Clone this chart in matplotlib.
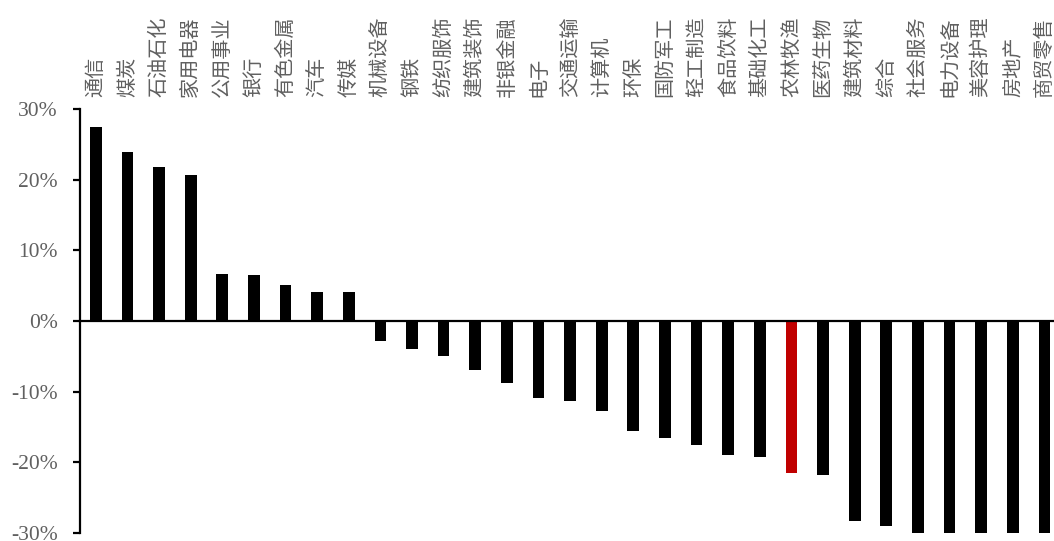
import numpy as np
import matplotlib
matplotlib.use("Agg")
import matplotlib.pyplot as plt
from matplotlib.ticker import FuncFormatter

# industry names and period return (%)
industries = [
    "通信", "煤炭", "石油石化", "家用电器", "公用事业", "银行", "有色金属", "汽车",
    "传媒", "机械设备", "钢铁", "纺织服饰", "建筑装饰", "非银金融", "电子", "交通运输",
    "计算机", "环保", "国防军工", "轻工制造", "食品饮料", "基础化工", "农林牧渔",
    "医药生物", "建筑材料", "综合", "社会服务", "电力设备", "美容护理", "房地产", "商贸零售",
]
returns = [
    27.5, 23.9, 21.8, 20.6, 6.6, 6.5, 5.05, 4.1,
    4.1, -2.85, -3.9, -4.9, -6.9, -8.75, -10.9, -11.3,
    -12.7, -15.5, -16.6, -17.5, -19.0, -19.2, -21.5,
    -21.8, -28.3, -29.0, -31.0, -32.0, -33.5, -35.0, -37.0,
]
highlight = "农林牧渔"

GRAY = "#606060"


def main():
    fig = plt.figure(figsize=(10.54, 5.41), dpi=100)
    ax = fig.add_axes([0.0759, 0.0148, 0.93, 0.7837])

    x = np.arange(len(industries))
    colors = ["#C00000" if name == highlight else "black" for name in industries]
    ax.bar(x, returns, width=0.37, color=colors, zorder=2)

    ax.set_xlim(-0.5, len(industries) - 0.5)
    ax.set_ylim(-30, 30)
    ax.set_yticks(np.arange(-30, 31, 10))
    ax.yaxis.set_major_formatter(FuncFormatter(lambda v, _: f"{v:.0f}%"))

    # axes: left spine plus a zero line, no x ticks
    for side in ("top", "right"):
        ax.spines[side].set_visible(False)
    ax.spines["left"].set_linewidth(1.6)
    ax.spines["bottom"].set_position(("data", 0))
    ax.spines["bottom"].set_linewidth(1.6)
    ax.spines["bottom"].set_zorder(3)
    ax.set_xticks([])

    ax.tick_params(axis="y", direction="out", length=5, width=1.6, pad=11,
                   labelsize=15.5, labelcolor=GRAY)
    for lab in ax.get_yticklabels():
        lab.set_family("Liberation Serif")

    # industry names stacked vertically above the plot
    for i, name in enumerate(industries):
        ax.annotate(name, xy=(i, 1), xycoords=("data", "axes fraction"),
                    xytext=(0, 9), textcoords="offset points",
                    rotation=90, ha="center", va="bottom",
                    fontsize=14.5, color=GRAY, fontweight="light",
                    family=["Noto Sans CJK SC", "DejaVu Sans"],
                    annotation_clip=False)

    fig.savefig("out.png", dpi=100)
    plt.close(fig)


if __name__ == "__main__":
    main()
